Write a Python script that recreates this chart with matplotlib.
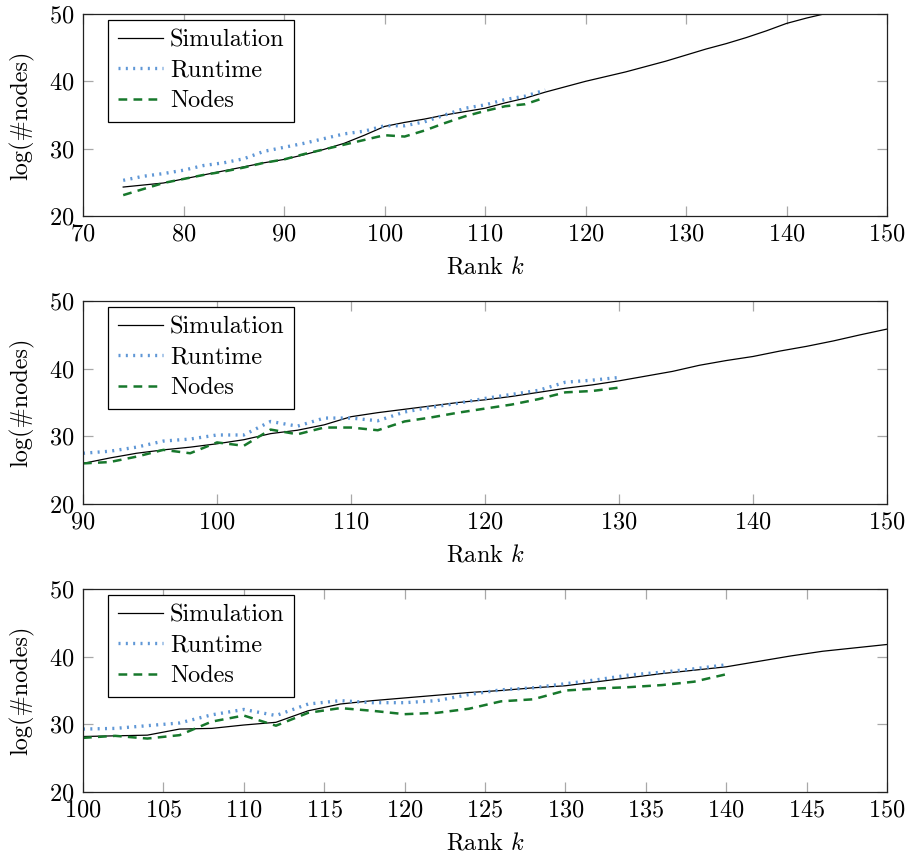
import numpy as np
import matplotlib
matplotlib.use("Agg")
import matplotlib.pyplot as plt

plt.rcParams['font.family'] = 'serif'
plt.rcParams['font.serif'] = ['cmr10', 'DejaVu Serif']
plt.rcParams['mathtext.fontset'] = 'cm'
plt.rcParams['axes.formatter.use_mathtext'] = True
plt.rcParams['font.size'] = 17.5

# --- top panel: ranks 74..116 ---
k1 = np.arange(74, 117, 2)
k1_sim = np.arange(74, 151, 2)
sim1 = [24.3, 24.6, 24.9, 25.5, 26.1, 26.7, 27.3, 27.9, 28.4, 29.1, 29.9, 30.8,
        32.0, 33.3, 33.9, 34.4, 35.0, 35.5, 36.0, 36.8, 37.5, 38.4, 39.2, 40.0,
        40.7, 41.4, 42.2, 43.0, 43.9, 44.8, 45.6, 46.5, 47.5, 48.6, 49.4, 50.1,
        50.9, 51.7, 52.5]
run1 = [25.3, 25.9, 26.3, 26.8, 27.5, 27.9, 28.5, 29.6, 30.2, 30.8, 31.5, 32.2,
        32.6, 33.4, 33.4, 34.0, 35.0, 36.0, 36.5, 37.3, 37.8, 38.7]
nod1 = [23.1, 24.0, 24.9, 25.5, 26.1, 26.6, 27.2, 27.9, 28.4, 29.2, 29.9, 30.6,
        31.3, 32.0, 31.8, 32.7, 33.8, 34.8, 35.6, 36.3, 36.6, 37.6]

# --- middle panel: ranks 90..130 ---
k2 = np.arange(90, 131, 2)
k2_sim = np.arange(90, 151, 2)
sim2 = [26.0, 26.8, 27.5, 28.0, 28.4, 28.9, 29.5, 30.4, 30.9, 31.7, 32.9, 33.5,
        34.0, 34.5, 35.0, 35.4, 35.9, 36.5, 37.1, 37.6, 38.2, 38.9, 39.6, 40.5,
        41.2, 41.8, 42.6, 43.3, 44.1, 45.0, 45.85]
run2 = [27.5, 27.8, 28.4, 29.3, 29.6, 30.2, 30.2, 32.2, 31.5, 32.7, 32.7, 32.3,
        33.6, 34.3, 34.9, 35.6, 36.2, 36.8, 38.0, 38.3, 38.7]
nod2 = [26.0, 26.2, 27.0, 28.0, 27.5, 29.1, 28.6, 31.0, 30.3, 31.3, 31.3, 30.9,
        32.2, 32.8, 33.5, 34.1, 34.7, 35.5, 36.5, 36.7, 37.2]

# --- bottom panel: ranks 100..140 ---
k3 = np.arange(100, 141, 2)
k3_sim = np.arange(100, 151, 2)
sim3 = [28.2, 28.3, 28.4, 29.3, 29.4, 29.9, 30.3, 32.0, 33.0, 33.5, 33.9, 34.3,
        34.7, 35.0, 35.4, 35.7, 36.3, 36.9, 37.5, 38.0, 38.5, 39.3, 40.1, 40.8,
        41.3, 41.8]
run3 = [29.3, 29.4, 29.8, 30.2, 31.4, 32.2, 31.3, 33.0, 33.5, 33.2, 33.2, 33.5,
        34.4, 35.1, 35.4, 36.0, 36.6, 37.3, 37.7, 38.2, 38.8]
nod3 = [28.0, 28.3, 27.9, 28.4, 30.4, 31.3, 29.8, 31.7, 32.4, 32.0, 31.5, 31.7,
        32.3, 33.4, 33.7, 35.0, 35.3, 35.5, 35.8, 36.3, 37.4]

panels = [
    (k1_sim, sim1, k1, run1, nod1, (70, 150), np.arange(70, 151, 10)),
    (k2_sim, sim2, k2, run2, nod2, (90, 150), np.arange(90, 151, 10)),
    (k3_sim, sim3, k3, run3, nod3, (100, 150), np.arange(100, 151, 5)),
]

blue = '#5f97d6'
green = '#17782c'

fig = plt.figure(figsize=(9.08, 8.59), dpi=100)
W, H = 908.0, 859.0
boxes = [(14, 216), (301, 504), (589, 792)]

for (ks, sim, kr, run, nod, xlim, xt), (top, bot) in zip(panels, boxes):
    ax = fig.add_axes([83 / W, 1 - bot / H, 804 / W, (bot - top) / H])
    ax.plot(ks, sim, color='black', lw=0.9, label='Simulation')
    ax.plot(kr, run, color=blue, lw=2.4, linestyle=(0, (0.6, 1.6)),
            dash_capstyle='butt', label='Runtime')
    ax.plot(kr, nod, color=green, lw=1.8, linestyle=(0, (3.5, 2.5)),
            label='Nodes')
    ax.set_xlim(*xlim)
    ax.set_ylim(20, 50)
    ax.set_xticks(xt)
    ax.set_yticks([20, 30, 40, 50])
    ax.tick_params(direction='in', length=7, width=0.9, color='#a8a8a8',
                   top=True, right=True, labelsize=17.5, pad=6)
    ax.tick_params(axis='x', pad=5)
    for sp in ax.spines.values():
        sp.set_linewidth(0.9)
        sp.set_color('#222222')
    ax.set_xlabel('Rank $k$', fontsize=17.5, labelpad=8)
    ax.set_ylabel('log(#nodes)', fontsize=17.5, labelpad=11)
    leg = ax.legend(loc='upper left', bbox_to_anchor=(25 / 804, 1 - 6 / (bot - top)),
                    borderaxespad=0, fancybox=False, framealpha=1,
                    edgecolor='black', handlelength=1.85, handletextpad=0.3,
                    borderpad=0.4, labelspacing=0.33, fontsize=17.5)
    leg.get_frame().set_linewidth(0.9)

fig.savefig('out.png', dpi=100)
